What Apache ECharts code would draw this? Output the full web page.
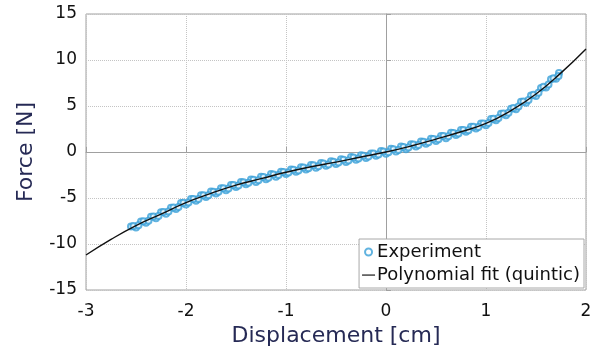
<!DOCTYPE html>
<html>
<head>
<meta charset="utf-8">
<script src="https://cdn.jsdelivr.net/npm/echarts@6/dist/echarts.min.js"></script>
<style>
  html, body { margin: 0; padding: 0; background: #fff; }
  #chart { width: 598px; height: 353px; }
</style>
</head>
<body>
<div id="chart"></div>
<script>
// polynomial fit (every 0.25 cm)
var fitX = [-3, -2.75, -2.5, -2.25, -2, -1.75, -1.5, -1.25, -1, -0.75, -0.5, -0.25, 0,
            0.25, 0.5, 0.75, 1, 1.25, 1.5, 1.75, 2];
var fitY = [-11.2, -9.5, -8.0, -6.75, -5.5, -4.5, -3.6, -2.9, -2.2, -1.6, -1.1, -0.55, 0,
            0.65, 1.4, 2.2, 3.1, 4.5, 6.3, 8.6, 11.2];

// experiment samples, read as four interleaved runs
var expAX = [-2.55, -2.45, -2.35, -2.25, -2.15, -2.05, -1.95, -1.85, -1.75, -1.65, -1.55,
             -1.45, -1.35, -1.25, -1.15, -1.05, -0.95, -0.85, -0.75, -0.65, -0.55, -0.45,
             -0.35, -0.25, -0.15, -0.05, 0.05, 0.15, 0.25, 0.35, 0.45, 0.55, 0.65, 0.75,
             0.85, 0.95, 1.05, 1.15, 1.25, 1.35, 1.45, 1.55, 1.65, 1.73];
var expAY = [-8.1, -7.55, -7.05, -6.55, -6.05, -5.55, -5.1, -4.7, -4.3, -3.95, -3.6,
             -3.25, -3.0, -2.7, -2.4, -2.15, -1.9, -1.65, -1.4, -1.2, -1.0, -0.8,
             -0.55, -0.35, -0.15, 0.1, 0.35, 0.6, 0.85, 1.15, 1.45, 1.75, 2.1, 2.4,
             2.75, 3.1, 3.6, 4.15, 4.7, 5.45, 6.15, 6.95, 7.9, 8.6];

var expBX = [-2.5, -2.4, -2.3, -2.2, -2.1, -2.0, -1.9, -1.8, -1.7, -1.6, -1.5, -1.4,
             -1.3, -1.2, -1.1, -1.0, -0.9, -0.8, -0.7, -0.6, -0.5, -0.4, -0.3, -0.2,
             -0.1, 0.0, 0.1, 0.2, 0.3, 0.4, 0.5, 0.6, 0.7, 0.8, 0.9, 1.0, 1.1, 1.2,
             1.3, 1.4, 1.5, 1.6, 1.7];
var expBY = [-8.2, -7.7, -7.2, -6.7, -6.2, -5.7, -5.3, -4.9, -4.5, -4.15, -3.8, -3.5,
             -3.25, -2.95, -2.7, -2.4, -2.15, -1.9, -1.7, -1.5, -1.3, -1.1, -0.85, -0.65,
             -0.4, -0.2, 0.05, 0.3, 0.6, 0.9, 1.2, 1.5, 1.85, 2.2, 2.55, 2.9, 3.45, 4.0,
             4.65, 5.35, 6.1, 7.0, 7.95];

var expCX = [-2.525, -2.425, -2.325, -2.225, -2.125, -2.025, -1.925, -1.825, -1.725, -1.625,
             -1.525, -1.425, -1.325, -1.225, -1.125, -1.025, -0.925, -0.825, -0.725, -0.625,
             -0.525, -0.425, -0.325, -0.225, -0.125, -0.025, 0.075, 0.175, 0.275, 0.375,
             0.475, 0.575, 0.675, 0.775, 0.875, 0.975, 1.075, 1.175, 1.275, 1.375, 1.475,
             1.575, 1.675];
var expCY = [-8.05, -7.52, -7.02, -6.52, -6.02, -5.52, -5.1, -4.7, -4.31, -3.95,
             -3.59, -3.29, -3.01, -2.73, -2.45, -2.17, -1.92, -1.68, -1.45, -1.25,
             -1.05, -0.83, -0.61, -0.4, -0.17, 0.05, 0.3, 0.55, 0.82, 1.12,
             1.42, 1.74, 2.06, 2.39, 2.75, 3.1, 3.62, 4.18, 4.78, 5.5, 6.22,
             7.09, 8.01];

var expDX = [-2.475, -2.375, -2.275, -2.175, -2.075, -1.975, -1.875, -1.775, -1.675, -1.575,
             -1.475, -1.375, -1.275, -1.175, -1.075, -0.975, -0.875, -0.775, -0.675, -0.575,
             -0.475, -0.375, -0.275, -0.175, -0.075, 0.025, 0.125, 0.225, 0.325, 0.425,
             0.525, 0.625, 0.725, 0.825, 0.925, 1.025, 1.125, 1.225, 1.325, 1.425, 1.525,
             1.625, 1.725];
var expDY = [-7.97, -7.47, -6.97, -6.47, -5.97, -5.5, -5.1, -4.7, -4.33, -3.97,
             -3.63, -3.35, -3.07, -2.79, -2.51, -2.24, -2.0, -1.76, -1.55, -1.35,
             -1.14, -0.92, -0.7, -0.48, -0.26, -0.03, 0.23, 0.49, 0.77, 1.07,
             1.38, 1.7, 2.02, 2.37, 2.73, 3.14, 3.7, 4.26, 4.94, 5.66, 6.43,
             7.35, 8.27];

function pairs(xs, ys) {
  return xs.map(function (x, i) { return [x, ys[i]]; });
}

var expData = pairs(expAX, expAY)
  .concat(pairs(expBX, expBY))
  .concat(pairs(expCX, expCY))
  .concat(pairs(expDX, expDY));
var blue = '#3aa0d8';
var font = 'DejaVu Sans, sans-serif';
var axisGray = '#a0a0a0';

var chart = echarts.init(document.getElementById('chart'));
chart.setOption({
  animation: false,
  textStyle: { fontFamily: font },
  grid: {
    left: 86, right: 12, top: 14, bottom: 63,
    show: true, borderColor: axisGray, borderWidth: 1
  },
  legend: {
    orient: 'vertical',
    right: 14, bottom: 65,
    backgroundColor: '#fff',
    borderColor: '#a8a8a8', borderWidth: 1,
    borderRadius: 0,
    padding: [4, 4, 4, 3],
    itemGap: 5,
    itemWidth: 13, itemHeight: 7,
    textStyle: { fontSize: 18, color: '#111', padding: [0, 0, 0, -3] },
    data: [
      { name: 'Experiment' },
      { name: 'Polynomial fit (quintic)', icon: 'path://M0,0L0,0M0,4.2h20v1.8h-20zM0,10L0,10' }
    ]
  },
  xAxis: {
    type: 'value',
    min: -3, max: 2, interval: 1,
    name: 'Displacement [cm]',
    nameLocation: 'middle',
    nameGap: 33,
    nameTextStyle: { fontSize: 22, color: '#262a55' },
    axisLine: { show: true, lineStyle: { color: axisGray } },
    axisTick: { show: true, inside: true, length: 5, lineStyle: { color: axisGray } },
    axisLabel: { fontSize: 17, color: '#111', margin: 13 },
    splitLine: { show: true, lineStyle: { color: '#c4c4c4', type: [1, 1] } }
  },
  yAxis: {
    type: 'value',
    min: -15, max: 15, interval: 5,
    name: 'Force [N]',
    nameLocation: 'middle',
    nameGap: 49,
    nameTextStyle: { fontSize: 22, color: '#262a55' },
    axisLine: { show: true, lineStyle: { color: axisGray } },
    axisTick: { show: true, inside: true, length: 5, lineStyle: { color: axisGray } },
    axisLabel: { fontSize: 17, color: '#111', margin: 9 },
    splitLine: { show: true, lineStyle: { color: '#c4c4c4', type: [1, 1] } }
  },
  series: [
    {
      name: 'Experiment',
      type: 'scatter',
      symbol: 'emptyCircle',
      symbolSize: 6,
      itemStyle: { color: blue, borderColor: blue, borderWidth: 1.2 },
      data: expData
    },
    {
      name: 'Polynomial fit (quintic)',
      type: 'line',
      smooth: true,
      symbol: 'none',
      lineStyle: { color: '#111', width: 1.4 },
      itemStyle: { color: '#111' },
      data: pairs(fitX, fitY)
    }
  ]
});
</script>
</body>
</html>
